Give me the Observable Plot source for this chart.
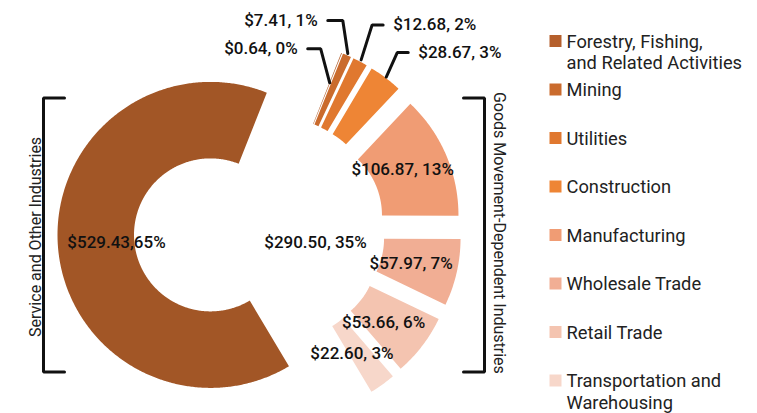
<!DOCTYPE html>
<html><head><meta charset="utf-8">
<script src="https://cdn.jsdelivr.net/npm/d3@7"></script>
<script src="https://cdn.jsdelivr.net/npm/@observablehq/plot@0.6"></script>
<style>body{margin:0;background:#fff;} #chart svg{display:block;}</style>
</head><body><div id="chart"></div>
<script>
// ---------- data ----------
const categories = ["Forestry, Fishing, and Related Activities","Mining","Utilities","Construction","Manufacturing","Wholesale Trade","Retail Trade","Transportation and Warehousing","Service and Other Industries"];
const values = [0.64, 7.41, 12.68, 28.67, 106.87, 57.97, 53.66, 22.60, 529.43];
const percents = ["0%","1%","2%","3%","13%","7%","6%","3%","65%"];
const colors = ["#B55F2C","#CA6B2D","#E0782F","#EE8535","#F09C74","#F1AE94","#F4C4B0","#F7D7CA","#A25626"];
const legendLabels = ["Forestry, Fishing,\nand Related Activities","Mining","Utilities","Construction","Manufacturing","Wholesale Trade","Retail Trade","Transportation and\nWarehousing"];
const groupTitles = ["Service and Other Industries","Goods Movement-Dependent Industries"];
const groupTotals = [529.43, 290.50];
const groupPercents = ["65%","35%"];

// ---------- layout ----------
const W = 757, H = 413;
const C = {x: 270.5, y: 229.5};
const R_IN = 76.5, R_OUT = 153;
const START = 21.6 * Math.PI / 180;
const EXPLODE_GOODS = 37.5, EXPLODE_SERVICE = 60.7;
const FONT = "Roboto, 'Open Sans', sans-serif";

const total = d3.sum(values);
let acc = START;
const slices = categories.map((name, i) => {
  const a0 = acc, a1 = acc + values[i] / total * 2 * Math.PI; acc = a1;
  const mid = (a0 + a1) / 2;
  const ex = i === 8 ? EXPLODE_SERVICE : EXPLODE_GOODS;
  return {name, i, a0, a1, mid, cx: C.x + ex * Math.sin(mid), cy: C.y - ex * Math.cos(mid)};
});
const pol = (s, r, a) => ({x: s.cx + r * Math.sin(a), y: s.cy - r * Math.cos(a)});

const polys = slices.flatMap(s => {
  const n = Math.max(2, Math.ceil((s.a1 - s.a0) / (Math.PI / 360)));
  const pts = [];
  for (let k = 0; k <= n; k++) pts.push({...pol(s, R_OUT, s.a0 + (s.a1 - s.a0) * k / n), name: s.name});
  for (let k = n; k >= 0; k--) pts.push({...pol(s, R_IN, s.a0 + (s.a1 - s.a0) * k / n), name: s.name});
  return pts;
});

const label = i => `$${values[i].toFixed(2)}, ${percents[i]}`;

// inner labels for larger goods slices
const inner = [4,5,6,7].map(i => {const p = pol(slices[i], 114.5, slices[i].mid); return {x: p.x - 8, y: p.y, text: label(i)};});

// leader lines for small slices
const leaderCfg = [
  {i:0, r:121, ex:-9, ey:-34, h:-13},
  {i:1, r:155, ex:-5, ey:-33, h:-15},
  {i:2, r:155, ex:11, ey:-35, h:11},
  {i:3, r:154, ex:11, ey:-24.5, h:11}
];
const leaderPts = leaderCfg.flatMap(c => {
  const s = slices[c.i], p = pol(s, c.r, s.mid);
  const e = {x: p.x + c.ex, y: p.y + c.ey};
  return [{...p, k:c.i}, {...e, k:c.i}, {x: e.x + c.h, y: e.y, k:c.i}];
});
const leaderText = leaderCfg.map(c => {
  const s = slices[c.i], p = pol(s, c.r, s.mid);
  const e = {x: p.x + c.ex + c.h, y: p.y + c.ey};
  return {x: e.x + Math.sign(c.h) * 10, y: e.y, text: label(c.i), anchor: c.h < 0 ? "end" : "start"};
});

// group totals
const sv = slices[8];
const groupLabels = [
  {x: sv.cx - 94, y: C.y + 12.5, text: `$${groupTotals[0].toFixed(2)},${groupPercents[0]}`},
  {x: C.x + 44.5, y: C.y + 12.5, text: `$${groupTotals[1].toFixed(2)}, ${groupPercents[1]}`}
];

// brackets
const bTop = sv.cy - 137, bBot = sv.cy + 137;
const bxL = sv.cx - R_OUT - 14, bxR = C.x + EXPLODE_GOODS + R_OUT + 23;
const brackets = [
  {x: bxL + 21, y: bTop, k: 0}, {x: bxL, y: bTop, k: 0}, {x: bxL, y: bBot, k: 0}, {x: bxL + 21, y: bBot, k: 0},
  {x: bxR - 21, y: bTop, k: 1}, {x: bxR, y: bTop, k: 1}, {x: bxR, y: bBot, k: 1}, {x: bxR - 21, y: bBot, k: 1}
];
const sideText = [
  {x: bxL - 8, y: sv.cy + 2, text: groupTitles[0], rot: -90},
  {x: bxR + 15, y: sv.cy - 2, text: groupTitles[1], rot: 90}
];

// legend
const LH = 21.5;
const legend = legendLabels.map((t, i) => {
  const y = 40.5 + 48.5 * i;
  const n = t.split("\n").length;
  return {y, ty: y + (n - 1) * LH / 2, text: t, name: categories[i]};
});

const plot = Plot.plot({
  width: W, height: H,
  margin: 0,
  x: {domain: [0, W], range: [0, W], axis: null},
  y: {domain: [0, H], range: [0, H], axis: null},
  color: {domain: categories, range: colors},
  style: {fontFamily: FONT, background: "#fff"},
  marks: [
    Plot.line(polys, {x: "x", y: "y", z: "name", fill: "name", stroke: "none", curve: "linear-closed"}),
    Plot.line(leaderPts, {x: "x", y: "y", z: "k", stroke: "#111", strokeWidth: 3, strokeLinejoin: "miter"}),
    Plot.line(brackets, {x: "x", y: "y", z: "k", stroke: "#111", strokeWidth: 3, strokeLinejoin: "miter"}),
    Plot.text(inner, {x: "x", y: "y", text: "text", fontSize: 17, fontWeight: 500, fill: "#111"}),
    Plot.text(leaderText.filter(d => d.anchor === "end"), {x: "x", y: "y", text: "text", textAnchor: "end", fontSize: 17, fontWeight: 500, fill: "#111"}),
    Plot.text(leaderText.filter(d => d.anchor === "start"), {x: "x", y: "y", text: "text", textAnchor: "start", fontSize: 17, fontWeight: 500, fill: "#111"}),
    Plot.text(groupLabels, {x: "x", y: "y", text: "text", fontSize: 17, fontWeight: 500, fill: "#111"}),
    Plot.text(sideText.filter(d => d.rot < 0), {x: "x", y: "y", text: "text", rotate: -90, fontSize: 16, fill: "#222"}),
    Plot.text(sideText.filter(d => d.rot > 0), {x: "x", y: "y", text: "text", rotate: 90, fontSize: 16, fill: "#222"}),
    Plot.dot(legend, {x: 555, y: "y", fill: "name", symbol: "square", r: 12 / Math.sqrt(Math.PI), stroke: "none"}),
    Plot.text(legend, {x: 566, y: "ty", text: "text", textAnchor: "start", fontSize: 18.3, lineHeight: LH / 18.3, fill: "#222"})
  ]
});
document.getElementById("chart").append(plot);
</script>
</body></html>
